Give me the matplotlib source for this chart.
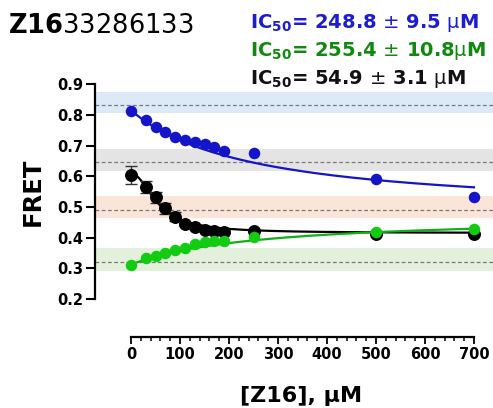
import matplotlib
matplotlib.use('Agg')
import matplotlib.pyplot as plt
import numpy as np

plt.rcParams['font.family'] = ['DejaVu Sans']
plt.rcParams['mathtext.fontset'] = 'custom'
plt.rcParams['mathtext.bf'] = 'DejaVu Sans:bold'
plt.rcParams['mathtext.rm'] = 'DejaVu Sans'

# concentrations of Z16, uM
conc = [0, 30, 50, 70, 90, 110, 130, 150, 170, 190, 250, 500, 700]

fret_blue = [0.813, 0.784, 0.760, 0.743, 0.729, 0.718, 0.712, 0.704, 0.695, 0.684, 0.677, 0.590, 0.534]
fret_green = [0.311, 0.333, 0.340, 0.351, 0.360, 0.367, 0.378, 0.385, 0.389, 0.389, 0.403, 0.417, 0.427]
fret_black = [0.604, 0.564, 0.532, 0.496, 0.468, 0.443, 0.436, 0.425, 0.423, 0.420, 0.423, 0.412, 0.412]
err_black = [0.029, 0.020, 0.018, 0.018, 0.014, 0.006, 0.005, 0.004, 0.004, 0.004, 0.004, 0.004, 0.004]

# fit parameters (top, bottom, IC50, hill)
fit_blue = (0.815, 0.475, 248.8, 1.0)
fit_green = (0.312, 0.472, 255.4, 1.0)
fit_black = (0.610, 0.415, 54.9, 2.0)

# reference bands: (center, low, high, colour)
bands = [
    (0.833, 0.805, 0.876, '#dce9f6'),
    (0.646, 0.618, 0.688, '#e4e4e4'),
    (0.490, 0.465, 0.536, '#fbe4d8'),
    (0.322, 0.291, 0.365, '#e3f0dc'),
]

ic50_labels = [
    (r'IC$_{\mathbf{50}}$= 248.8 $\pm$ 9.5 $\mathrm{\mu}$M', '#1c1cd0'),
    (r'IC$_{\mathbf{50}}$= 255.4 $\pm$ 10.8$\mathrm{\mu}$M', '#0f8a0f'),
    (r'IC$_{\mathbf{50}}$= 54.9 $\pm$ 3.1 $\mathrm{\mu}$M', '#111111'),
]


def hill(x, top, bottom, ic50, n):
    return bottom + (top - bottom) / (1 + (x / ic50) ** n)


fig = plt.figure(figsize=(4.93, 4.08), dpi=100)
ax = fig.add_axes([95 / 493, 1 - 337 / 408, 1 - 95 / 493, (337 - 84.3) / 408])

for c, lo, hi, col in bands:
    ax.axhspan(lo, hi, color=col, lw=0, zorder=0)
    ax.axhline(c, color='#7a7a7a', lw=0.9, ls=(0, (3, 2)), zorder=1)

xf = np.linspace(0, 700, 400)

ax.plot(xf, hill(xf, *fit_black), color='black', lw=1.6, zorder=3)
ax.errorbar(conc, fret_black, yerr=err_black, fmt='o', color='black', ms=8.3,
            ecolor='#333333', elinewidth=1, capsize=4.5, capthick=1, zorder=4)

ax.plot(xf, hill(xf, *fit_green), color='#10b010', lw=1.6, zorder=5)
ax.plot(conc, fret_green, 'o', color='#12cc12', ms=8.3, mec='none', zorder=6)

ax.plot(xf, hill(xf, *fit_blue), color='#1414c8', lw=1.6, zorder=5)
ax.plot(conc, fret_blue, 'o', color='#1414c8', ms=8.3, mec='none', zorder=6)

ax.set_xlim(-73.5, 738.8)
ax.set_ylim(0.076, 0.9)

for s in ['top', 'right']:
    ax.spines[s].set_visible(False)
ax.spines['left'].set_bounds(0.2, 0.9)
ax.spines['bottom'].set_bounds(0, 700)
ax.spines['left'].set_linewidth(1.6)
ax.spines['bottom'].set_linewidth(1.6)

ax.set_yticks(np.arange(0.2, 0.91, 0.1))
ax.set_yticklabels([f'{v:.1f}' for v in np.arange(0.2, 0.91, 0.1)])
ax.set_xticks(range(0, 701, 100))
ax.set_xticks(range(0, 701, 20), minor=True)
ax.tick_params(axis='y', length=6.5, width=1.5, pad=2, labelsize=10.5)
ax.tick_params(axis='x', which='major', length=5, width=1.3, pad=2, labelsize=10.5)
ax.tick_params(axis='x', which='minor', length=3, width=1.1)
for lab in ax.get_xticklabels() + ax.get_yticklabels():
    lab.set_fontweight('bold')

fig.text(33 / 493, 1 - 192 / 408, 'FRET', rotation=90, ha='center', va='center',
         fontsize=17.5, fontweight='bold')
fig.text(301 / 493, 1 - 402 / 408, '[Z16], μM', ha='center', va='baseline',
         fontsize=16, fontweight='bold')

fig.text(8 / 493, 1 - 33 / 408, r'$\mathbf{Z16}$33286133', ha='left', va='baseline',
         fontsize=18.5)

for i, (txt, col) in enumerate(ic50_labels):
    fig.text(250 / 493, 1 - (28 + 28 * i) / 408, txt, ha='left', va='baseline',
             fontsize=14, fontweight='bold', color=col)

fig.savefig('out.png', dpi=100)
